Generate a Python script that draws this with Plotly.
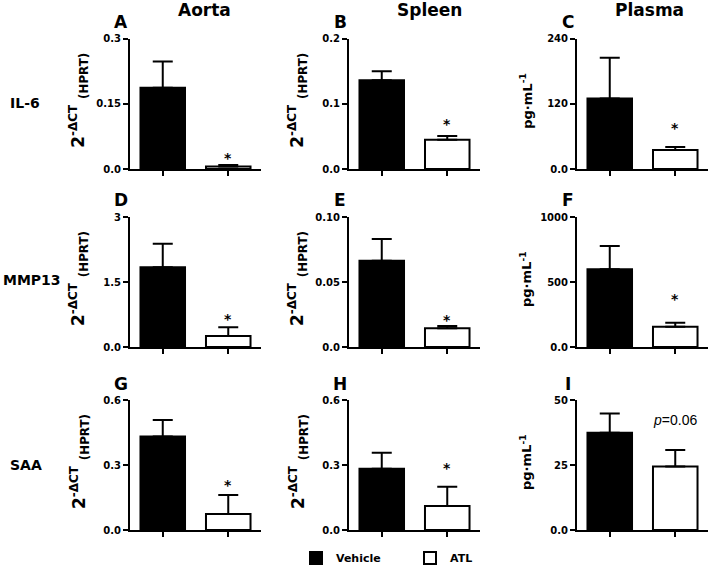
import plotly.graph_objects as go

W, H = 709, 565

# ---------------- data ----------------
panel_letters = ["A", "B", "C", "D", "E", "F", "G", "H", "I"]
column_titles = ["Aorta", "Spleen", "Plasma"]
row_labels = ["IL-6", "MMP13", "SAA"]
groups = ["Vehicle", "ATL"]

vehicle_mean = [0.187, 0.136, 129.5, 1.84, 0.0664, 598, 0.431, 0.283, 37.4]
vehicle_err = [0.060, 0.014, 75.0, 0.54, 0.0167, 179, 0.077, 0.074, 7.4]
atl_mean = [0.006, 0.0447, 34.8, 0.254, 0.0144, 156, 0.0738, 0.111, 24.4]
atl_err = [0.003, 0.006, 5.5, 0.20, 0.0018, 31, 0.088, 0.089, 6.4]
significance = ["*", "*", "*", "*", "*", "*", "*", "*", "<i>p</i>=0.06"]

y_max = [0.3, 0.2, 240, 3, 0.10, 1000, 0.6, 0.6, 50]
tick_labels = [
    ["0.0", "0.15", "0.3"],
    ["0.0", "0.1", "0.2"],
    ["0.0", "120", "240"],
    ["0.0", "1.5", "3"],
    ["0.0", "0.05", "0.10"],
    ["0.0", "500", "1000"],
    ["0.0", "0.3", "0.6"],
    ["0.0", "0.3", "0.6"],
    ["0.0", "25", "50"],
]
mrna_title = "2<sup>-ΔCT</sup> <sub>(HPRT)</sub>"
plasma_title = "pg·mL<sup>-1</sup>"
y_titles = [mrna_title, mrna_title, plasma_title] * 3

# ---------------- layout (pixels) ----------------
col_left = [130, 349, 577]
col_width = 131
row_spans = [(38.5, 169), (217, 347), (400, 530)]
star_gap = [9, 14, 21, 10, 8, 26, 12, 21, 30]

BOLD = "DejaVu Sans"
fig = go.Figure()

def px_x(x):
    return x / W

def px_y(y):
    return 1 - y / H

for i in range(9):
    r, c = divmod(i, 3)
    n = i + 1
    xa = "x" if n == 1 else f"x{n}"
    ya = "y" if n == 1 else f"y{n}"
    xkey = "xaxis" if n == 1 else f"xaxis{n}"
    ykey = "yaxis" if n == 1 else f"yaxis{n}"
    top, bot = row_spans[r]

    for g, (mean, err, fill) in enumerate([
        (vehicle_mean[i], vehicle_err[i], "black"),
        (atl_mean[i], atl_err[i], "white"),
    ]):
        fig.add_trace(go.Bar(
            x=[g], y=[mean], name=groups[g], legendgroup=groups[g],
            showlegend=(i == 0), xaxis=xa, yaxis=ya, width=0.68,
            marker=dict(color=fill, line=dict(color="black", width=2)),
            error_y=dict(type="data", symmetric=False, array=[err],
                         arrayminus=[0], color="black", thickness=2, width=10),
        ))

    fig.layout[xkey] = dict(
        domain=[px_x(col_left[c]), px_x(col_left[c] + col_width)],
        anchor=ya, range=[-0.5, 1.5], showgrid=False, zeroline=False,
        showline=True, linecolor="black", linewidth=2,
        ticks="outside", ticklen=5, tickwidth=2, tickcolor="black",
        tickvals=[0, 1], showticklabels=False, fixedrange=True,
    )
    fig.layout[ykey] = dict(
        domain=[px_y(bot), px_y(top)], anchor=xa,
        range=[0, y_max[i]], showgrid=False, zeroline=False,
        showline=True, linecolor="black", linewidth=2,
        ticks="outside", ticklen=5, tickwidth=2, tickcolor="black",
        tickvals=[0, y_max[i] / 2, y_max[i]], ticktext=tick_labels[i],
        tickfont=dict(family=BOLD, size=10, color="black", weight="bold"),
        fixedrange=True,
    )

    # panel letter
    fig.add_annotation(
        text=panel_letters[i], xref="paper", yref="paper",
        x=px_x(col_left[c] - 9), y=px_y(top - 16.5),
        xanchor="center", yanchor="middle", showarrow=False,
        font=dict(family=BOLD, size=17, color="black", weight="bold"),
    )
    # y-axis title
    fig.add_annotation(
        text=y_titles[i], xref="paper", yref="paper",
        x=px_x(col_left[c] - 51), y=px_y((top + bot) / 2 - 3),
        xanchor="center", yanchor="middle", textangle=-90, showarrow=False,
        font=dict(family=BOLD, size=17 if c < 2 else 13, color="black", weight="bold"),
    )
    # significance mark above the ATL bar
    is_star = significance[i] == "*"
    fig.add_annotation(
        text=significance[i], x=1, y=atl_mean[i] + atl_err[i], xref=xa, yref=ya,
        xanchor="center", yanchor="middle", showarrow=False,
        yshift=star_gap[i] - (2 if is_star else 0),
        font=dict(family=BOLD if is_star else "Liberation Sans", size=14,
                  color="black", weight="bold" if is_star else "normal"),
    )

# column titles
for c, t in enumerate(column_titles):
    centers = [204.5, 430, 649.5]
    fig.add_annotation(
        text=t, xref="paper", yref="paper", x=px_x(centers[c]), y=px_y(9.5),
        xanchor="center", yanchor="middle", showarrow=False,
        font=dict(family=BOLD, size=17, color="black", weight="bold"),
    )

# row labels
for r, t in enumerate(row_labels):
    cx = [25, 31.5, 26][r]
    cy = [103, 280, 465][r]
    fig.add_annotation(
        text=t, xref="paper", yref="paper", x=px_x(cx), y=px_y(cy),
        xanchor="center", yanchor="middle", showarrow=False,
        font=dict(family=BOLD, size=14, color="black", weight="bold"),
    )

fig.update_layout(
    width=W, height=H, barmode="overlay",
    margin=dict(l=0, r=0, t=0, b=0, autoexpand=False),
    paper_bgcolor="white", plot_bgcolor="white",
    showlegend=True,
    legend=dict(
        orientation="h", x=px_x(296), y=px_y(558), xanchor="left", yanchor="middle",
        entrywidth=69, entrywidthmode="pixels",
        font=dict(family=BOLD, size=11, color="black", weight="bold"),
        bgcolor="rgba(0,0,0,0)",
    ),
)

fig.write_html(
    "out.html",
    config={"displayModeBar": False},
    post_script="document.body.style.margin='0';document.body.style.overflow='hidden';",
)
